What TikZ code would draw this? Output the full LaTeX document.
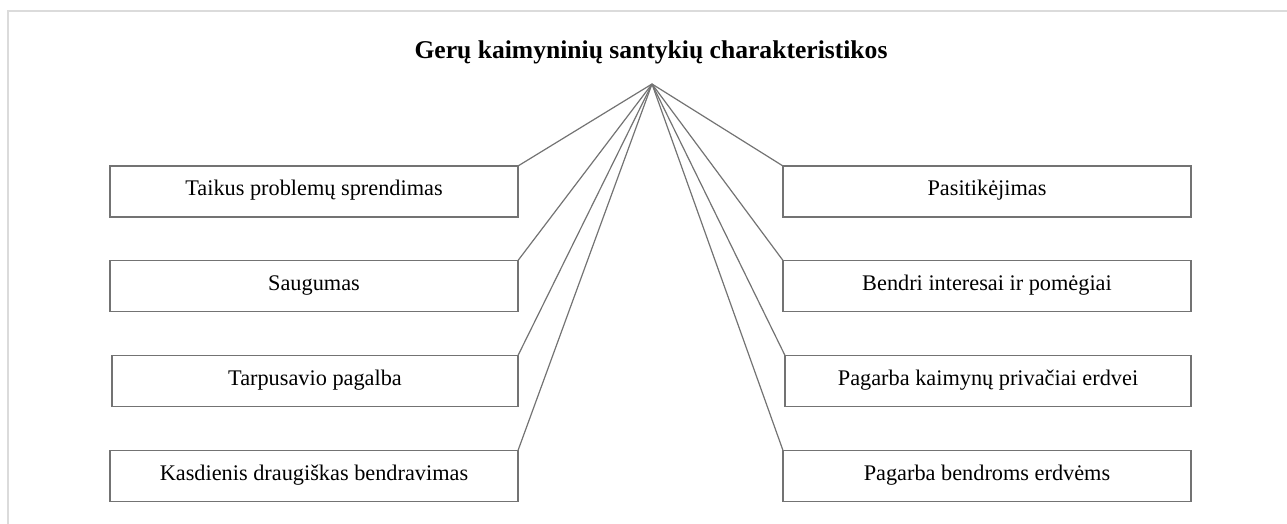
\documentclass[tikz,border=0pt]{standalone}
\usepackage{fontspec}
\setmainfont{Liberation Serif}
\begin{document}
\begin{tikzpicture}[x=1pt,y=-1pt,
  itembox/.style={draw=black!55,line width=1.3pt,minimum height=51pt,inner sep=0pt,outer sep=0pt,
    font=\fontsize{22.3}{26}\selectfont,text=black,text height=1em,text depth=0.18em},
  link/.style={draw=black!55,line width=1.2pt},
  frameline/.style={draw=black!14,line width=2pt}]
\useasboundingbox (0,0) rectangle (1287,524);
\draw[frameline] (7.5,524) -- (7.5,11) -- (1287,11);
\node[font=\bfseries\fontsize{25.6}{30}\selectfont,anchor=base,inner sep=0pt] (title) at (651,59) {Gerų kaimyninių santykių charakteristikos};
\coordinate (hub) at (652,84);
\node[itembox,minimum width=408pt] (l1) at (314,191.5) {Taikus problemų sprendimas};
\node[itembox,minimum width=408pt] (l2) at (314,286) {Saugumas};
\node[itembox,minimum width=406pt] (l3) at (315,381) {Tarpusavio pagalba};
\node[itembox,minimum width=408pt] (l4) at (314,476) {Kasdienis draugiškas bendravimas};
\node[itembox,minimum width=408pt] (r1) at (987,191.5) {Pasitikėjimas};
\node[itembox,minimum width=408pt] (r2) at (987,286) {Bendri interesai ir pomėgiai};
\node[itembox,minimum width=406pt] (r3) at (988,381) {Pagarba kaimynų privačiai erdvei};
\node[itembox,minimum width=408pt] (r4) at (987,476) {Pagarba bendroms erdvėms};
\foreach \n in {l1,l2,l3,l4} \draw[link] (hub) -- (\n.north east);
\foreach \n in {r1,r2,r3,r4} \draw[link] (hub) -- (\n.north west);
\end{tikzpicture}
\end{document}
